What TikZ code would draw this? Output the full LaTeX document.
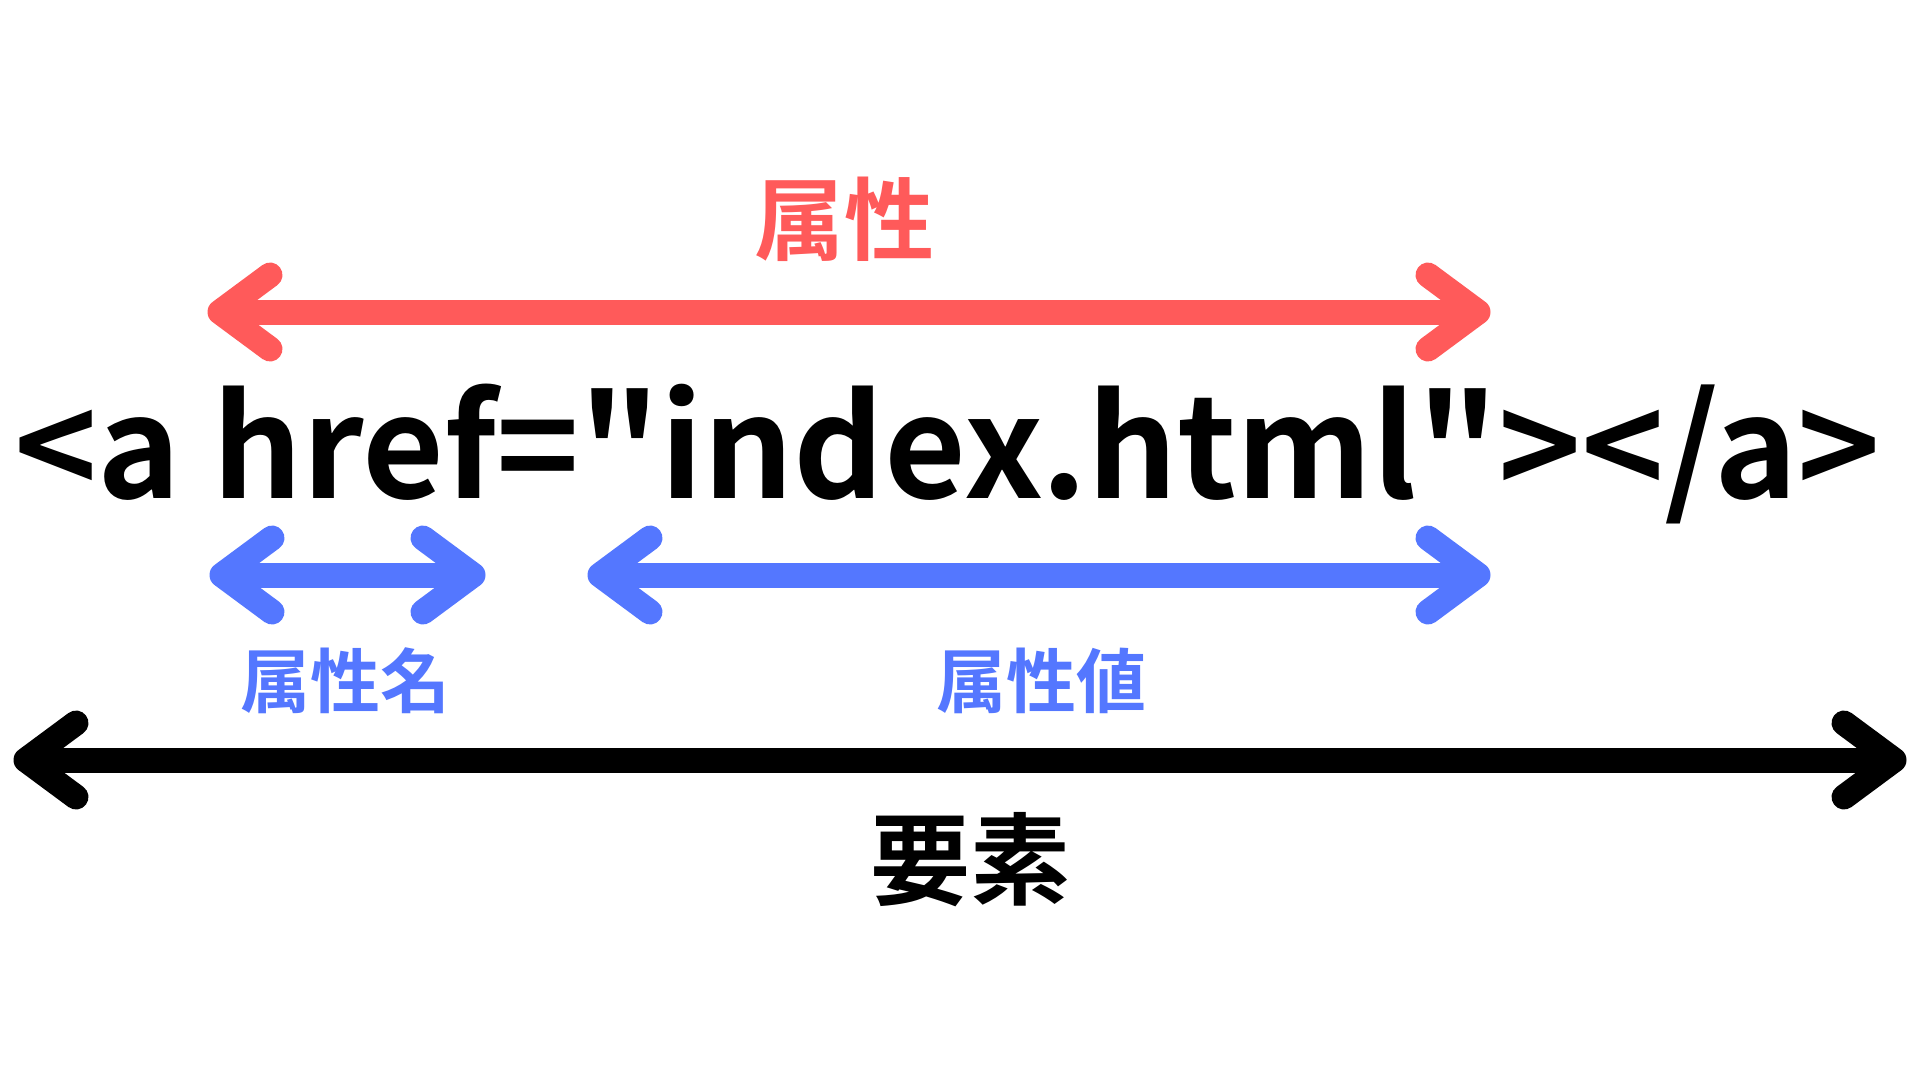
\documentclass[tikz,border=0pt]{standalone}
\usepackage{fontspec}
\newfontfamily\jpb{Noto Sans CJK JP Bold}
\definecolor{attrred}{RGB}{255,90,90}
\definecolor{attrblue}{RGB}{84,119,255}
\begin{document}
\begin{tikzpicture}[x=1pt,y=-1pt,
  arrowline/.style={line width=25pt,line cap=butt},
  chevron/.style={line width=25pt,line cap=round,line join=round},
  lbl/.style={inner sep=0pt,font=\jpb},
  pics/chevl/.style={code={\draw[chevron] (50,-37) -- (0,0) -- (50,37);}},
  pics/chevr/.style={code={\draw[chevron] (-50,-37) -- (0,0) -- (-50,37);}}
]
\useasboundingbox[fill=white] (0,0) rectangle (1920,1080);
% red arrow (attribute)
\coordinate (rl) at (220,312);
\coordinate (rr) at (1478,312);
\draw[arrowline,attrred] (rl) -- (rr);
\pic[attrred] at (rl) {chevl};
\pic[attrred] at (rr) {chevr};
\node[lbl,text=attrred,font=\jpb\fontsize{90}{90}\selectfont] (attr) at (844,219) {属性};
% code line
\node[lbl,anchor=base west,font=\jpb\fontsize{141}{141}\selectfont] (code) at (14,498) {<a href="index.html"></a>};
% blue arrows
\coordinate (nl) at (222,575);
\coordinate (nr) at (473,575);
\draw[arrowline,attrblue] (nl) -- (nr);
\pic[attrblue] at (nl) {chevl};
\pic[attrblue] at (nr) {chevr};
\coordinate (vl) at (600,575);
\coordinate (vr) at (1478,575);
\draw[arrowline,attrblue] (vl) -- (vr);
\pic[attrblue] at (vl) {chevl};
\pic[attrblue] at (vr) {chevr};
\node[lbl,text=attrblue,font=\jpb\fontsize{70}{70}\selectfont] (aname) at (345,681) {属性名};
\node[lbl,text=attrblue,font=\jpb\fontsize{70}{70}\selectfont] (aval) at (1041,681) {属性値};
% black arrow (element)
\coordinate (el) at (26,760);
\coordinate (er) at (1894,760);
\draw[arrowline,black] (el) -- (er);
\pic[black] at (el) {chevl};
\pic[black] at (er) {chevr};
\node[lbl,text=black,font=\jpb\fontsize{100}{100}\selectfont] (elem) at (970,860) {要素};
\end{tikzpicture}
\end{document}
